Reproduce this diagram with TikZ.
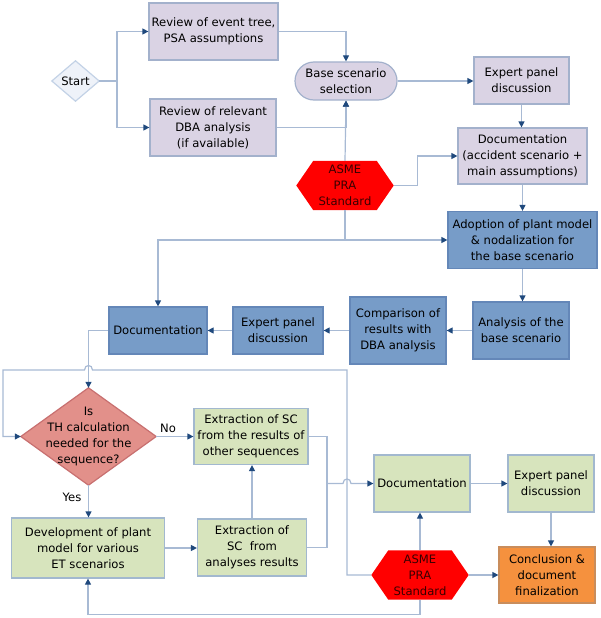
\documentclass[tikz,border=0pt]{standalone}
\usepackage{fontspec}
\setmainfont{DejaVu Sans}
\usetikzlibrary{arrows.meta,calc}
\definecolor{lav}{HTML}{DAD3E4}
\definecolor{lavb}{HTML}{A3B1CC}
\definecolor{blu}{HTML}{779CC8}
\definecolor{blub}{HTML}{6487B8}
\definecolor{grn}{HTML}{D7E4BD}
\definecolor{grnb}{HTML}{A2B8CF}
\definecolor{org}{HTML}{F5913E}
\definecolor{orgb}{HTML}{C98D5C}
\definecolor{thf}{HTML}{E2908A}
\definecolor{thb}{HTML}{C87070}
\definecolor{stf}{HTML}{EEF2F9}
\definecolor{stb}{HTML}{C3D2E6}
\definecolor{lnc}{HTML}{A8BAD4}
\definecolor{tipc}{HTML}{1F497D}
\definecolor{hext}{HTML}{3A0000}
\pgfdeclarelayer{bg}\pgfsetlayers{bg,main}
\newcommand\hexshape[2]{%
 \begin{pgfonlayer}{bg}
 \fill[red] (#1.west) -- ($(#1.north west)+(#2,0)$) -- ($(#1.north east)+(-#2,0)$) -- (#1.east) -- ($(#1.south east)+(-#2,0)$) -- ($(#1.south west)+(#2,0)$) -- cycle;
 \end{pgfonlayer}}
\newcommand\diashape[3]{%
 \begin{pgfonlayer}{bg}
 \filldraw[fill=#2,draw=#3,line width=1.2pt] (#1.west) -- (#1.north) -- (#1.east) -- (#1.south) -- cycle;
 \end{pgfonlayer}}
\tikzset{
 txt/.style={align=center, inner sep=0pt, font=\fontsize{11.6}{16}\selectfont, text=black},
 box/.style={txt, draw, line width=1.2pt},
 lavbox/.style={box, fill=lav, draw=lavb},
 blubox/.style={box, fill=blu, draw=blub},
 grnbox/.style={box, fill=grn, draw=grnb},
 orgbox/.style={box, fill=org, draw=orgb},
 hexnode/.style={txt, text=hext, minimum width=97pt, minimum height=49pt},
 ln/.style={draw=lnc, line width=1.2pt},
 arr/.style={ln, -{Triangle[length=6pt,width=6pt,color=tipc]}},
}
\begin{document}
\begin{tikzpicture}[x=1pt,y=-1pt]
\useasboundingbox (0,0) rectangle (600,618);
% nodes
\node[txt, minimum width=47pt, minimum height=40pt] (start) at (75.5,81) {Start};
\diashape{start}{stf}{stb}
\node[lavbox, minimum width=129pt, minimum height=57pt] (rev1) at (213.5,31.5) {Review of event tree,\\PSA assumptions};
\node[lavbox, minimum width=126pt, minimum height=57pt] (rev2) at (213,127.5) {Review of relevant\\DBA analysis\\(if available)};
\node[lavbox, rounded corners=19pt, minimum width=102pt, minimum height=38pt] (base) at (346,81) {Base scenario\\selection};
\node[lavbox, minimum width=95pt, minimum height=47pt] (exp1) at (521.5,80.5) {Expert panel\\discussion};
\node[lavbox, minimum width=129pt, minimum height=56pt] (doc1) at (522.5,156) {Documentation\\(accident scenario +\\main assumptions)};
\node[hexnode] (asme1) at (345,185.5) {ASME\\PRA\\Standard};
\hexshape{asme1}{17}
\node[blubox, minimum width=149pt, minimum height=57pt] (adopt) at (522.5,240) {Adoption of plant model\\\& nodalization for\\the base scenario};
\node[blubox, minimum width=96pt, minimum height=57pt] (anal) at (521,330.5) {Analysis of the\\base scenario};
\node[blubox, minimum width=96pt, minimum height=67pt] (comp) at (398,330.5) {Comparison of\\results with\\DBA analysis};
\node[blubox, minimum width=90pt, minimum height=47pt] (exp2) at (278,330.5) {Expert panel\\discussion};
\node[blubox, minimum width=98pt, minimum height=47pt] (doc2) at (158,330.5) {Documentation};
\node[txt, minimum width=135pt, minimum height=97pt] (th) at (88.5,436.5) {Is\\TH calculation\\needed for the\\sequence?};
\diashape{th}{thf}{thb}
\node[txt] (no) at (168,428) {No};
\node[txt] (yes) at (72,497) {Yes};
\node[grnbox, minimum width=114pt, minimum height=56pt] (ext1) at (251,436.5) {Extraction of SC\\from the results of\\other sequences};
\node[grnbox, minimum width=153pt, minimum height=60pt] (dev) at (88,548) {Development of plant\\model for various\\ET scenarios};
\node[grnbox, minimum width=109pt, minimum height=57pt] (ext2) at (252,547.5) {Extraction of\\SC~ from\\analyses results};
\node[grnbox, minimum width=96pt, minimum height=57pt] (doc3) at (422,483.5) {Documentation};
\node[grnbox, minimum width=86pt, minimum height=57pt] (exp3) at (551,483.5) {Expert panel\\discussion};
\node[orgbox, minimum width=96pt, minimum height=56pt] (conc) at (547,575) {Conclusion \&\\document\\finalization};
\node[hexnode] (asme2) at (420,575) {ASME\\PRA\\Standard};
\hexshape{asme2}{17}
% connectors
\coordinate (j1) at (117,81);
\draw[ln] (start.east) -- (j1);
\draw[arr] (j1) |- (rev1.west);
\draw[arr] (j1) |- (rev2.west);
\draw[arr] (rev1.east) -| (base.north);
\draw[arr] (rev2.east) -| (base.south);
\draw[arr] (asme1.north) -- (base.south);
\draw[arr] (base.east) -- (base.east -| exp1.west);
\draw[arr] (exp1.south) -- (exp1.south |- doc1.north);
\draw[arr] (asme1.east) -- ++(24,0) |- (doc1.west);
\draw[arr] (doc1.south) -- (doc1.south |- adopt.north);
\coordinate (j2) at (asme1.south |- adopt.west);
\draw[ln] (asme1.south) -- (j2);
\draw[arr] (j2) -- (adopt.west);
\draw[arr] (j2) -| (doc2.north);
\draw[arr] (adopt.south) -- (adopt.south |- anal.north);
\draw[arr] (anal.west) -- (anal.west -| comp.east);
\draw[arr] (comp.west) -- (comp.west -| exp2.east);
\draw[arr] (exp2.west) -- (exp2.west -| doc2.east);
\coordinate (j3) at (th.north |- doc2.west);
\draw[arr] (doc2.west) -- (j3) -- (th.north);
\draw[arr] (asme2.west) -- (347,575) -- (347,370) -- (92.5,370) .. controls (92.5,364) and (84.5,364) .. (84.5,370) -- (3,370) -- (3,436.5) -- (th.west);
\draw[arr] (th.east) -- (th.east -| ext1.west);
\draw[arr] (th.south) -- (th.south |- dev.north);
\draw[arr] (dev.east) -- (dev.east -| ext2.west);
\draw[arr] (ext2.north) -- (ext2.north |- ext1.south);
\coordinate (j4) at (327,483.5);
\draw[ln] (ext1.east) -| (j4);
\draw[ln] (ext2.east) -| (j4);
\draw[arr] (j4) -- (343,483.5) .. controls (343,477.5) and (351,477.5) .. (351,483.5) -- (doc3.west);
\draw[arr] (doc3.east) -- (exp3.west);
\draw[arr] (exp3.south) -- (exp3.south |- conc.north);
\draw[arr] (asme2.north) -- (asme2.north |- doc3.south);
\draw[arr] (asme2.east) -- (conc.west);
\draw[arr] (asme2.south) -- ++(0,15) -| (dev.south);
\end{tikzpicture}
\end{document}
